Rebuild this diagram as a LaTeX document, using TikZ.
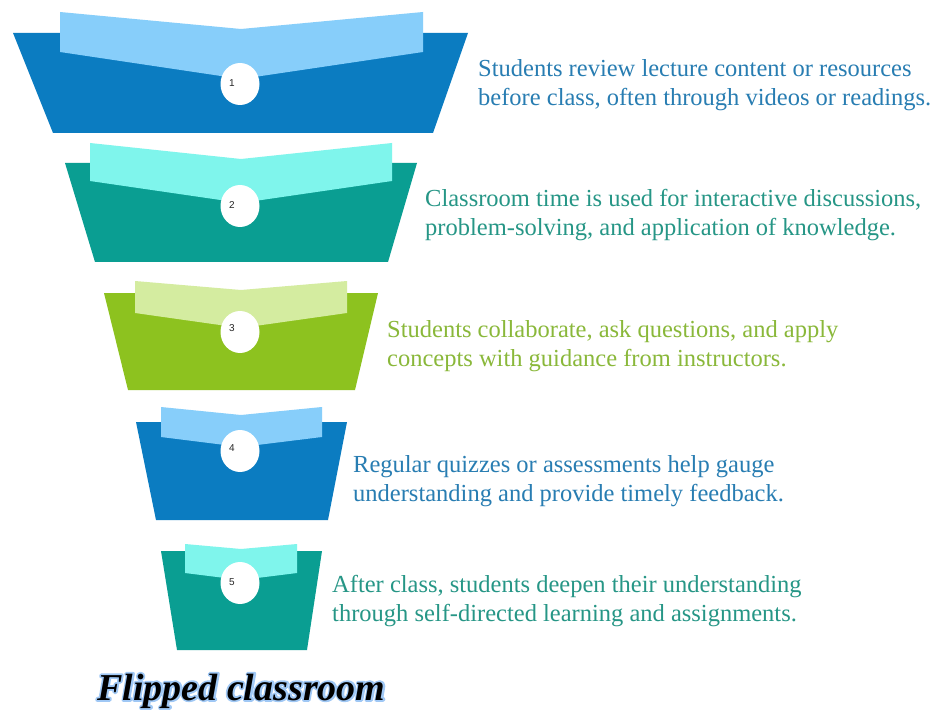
\documentclass[tikz,border=0pt]{standalone}
\usepackage{fontspec}
\setmainfont{Liberation Serif}
\newfontfamily\numfont{Liberation Sans}
\usetikzlibrary{shapes.geometric}
\definecolor{dblue}{RGB}{11,124,193}
\definecolor{lblue}{RGB}{135,206,250}
\definecolor{dteal}{RGB}{10,158,146}
\definecolor{lteal}{RGB}{127,245,236}
\definecolor{dgreen}{RGB}{141,194,31}
\definecolor{lgreen}{RGB}{212,236,160}
\definecolor{tblue}{RGB}{40,125,178}
\definecolor{tteal}{RGB}{38,150,134}
\definecolor{tgreen}{RGB}{138,184,58}
\definecolor{glowc}{RGB}{160,200,245}
\newcommand\glowtext[1]{\leavevmode
  \rlap{\textcolor{glowc}{\special{pdf:literal direct 1 Tr 3.6 w 1 j 1 J}#1\special{pdf:literal direct 0 Tr}}}%
  #1}
\begin{document}
\begin{tikzpicture}[x=1pt,y=-1pt,
  desc/.style={anchor=base west, inner sep=0pt, font=\fontsize{24.5}{29}\selectfont},
  dot/.style={ellipse, fill=white, minimum width=39pt, minimum height=42pt, inner sep=0pt},
  numlbl/.style={inner sep=0pt, font=\numfont\fontsize{10}{11}\selectfont, text=black!85},
  ttl/.style={anchor=base west, inner sep=0pt, font=\fontsize{38}{40}\selectfont\bfseries\itshape}]
\useasboundingbox (0,0) rectangle (947,711);
\fill[white] (0,0) rectangle (947,711);

% level 1
\fill[dblue] (13,33) -- (468,33) -- (433,133) -- (53,133) -- cycle;
\fill[lblue] (60,12) -- (241,29) -- (423,12) -- (423,52) -- (241,79) -- (60,52) -- cycle;
\node[dot] (c1) at (240,84) {};
\node[numlbl] (n1) at (232,83) {1};

% level 2
\fill[dteal] (65,163) -- (417,163) -- (388,262) -- (95,262) -- cycle;
\fill[lteal] (90,143) -- (241,159) -- (392,143) -- (392,181) -- (241,203) -- (90,181) -- cycle;
\node[dot] (c2) at (240,206) {};
\node[numlbl] (n2) at (232,205) {2};

% level 3
\fill[dgreen] (104,293) -- (378,293) -- (355,390) -- (128,390) -- cycle;
\fill[lgreen] (135,281) -- (241,290) -- (347,281) -- (347,313) -- (241,328) -- (135,313) -- cycle;
\node[dot] (c3) at (240,332) {};
\node[numlbl] (n3) at (232,328) {3};

% level 4
\fill[dblue] (136,422) -- (347,422) -- (328,520) -- (156,520) -- cycle;
\fill[lblue] (161,407) -- (241,415) -- (322,407) -- (322,437) -- (241,447) -- (161,437) -- cycle;
\node[dot] (c4) at (240,451) {};
\node[numlbl] (n4) at (232,448) {4};

% level 5
\fill[dteal] (161,551) -- (322,551) -- (307,650) -- (177,650) -- cycle;
\fill[lteal] (185,544) -- (241,549) -- (297,544) -- (297,573) -- (241,580) -- (185,573) -- cycle;
\node[dot] (c5) at (240,583) {};
\node[numlbl] (n5) at (232,582) {5};

% descriptions
\node[desc, text=tblue] (d1a) at (478,77) {Students review lecture content or resources};
\node[desc, text=tblue] (d1b) at (478,106) {before class, often through videos or readings.};
\node[desc, text=tteal] (d2a) at (425,207) {Classroom time is used for interactive discussions,};
\node[desc, text=tteal] (d2b) at (425,236) {problem-solving, and application of knowledge.};
\node[desc, text=tgreen] (d3a) at (387,337) {Students collaborate, ask questions, and apply};
\node[desc, text=tgreen] (d3b) at (387,366) {concepts with guidance from instructors.};
\node[desc, text=tblue] (d4a) at (353,472) {Regular quizzes or assessments help gauge};
\node[desc, text=tblue] (d4b) at (353,501) {understanding and provide timely feedback.};
\node[desc, text=tteal] (d5a) at (332,592) {After class, students deepen their understanding};
\node[desc, text=tteal] (d5b) at (332,621) {through self-directed learning and assignments.};

% title with glow
\node[ttl, text=black] (title) at (97,700) {\glowtext{Flipped classroom}};
\end{tikzpicture}
\end{document}
